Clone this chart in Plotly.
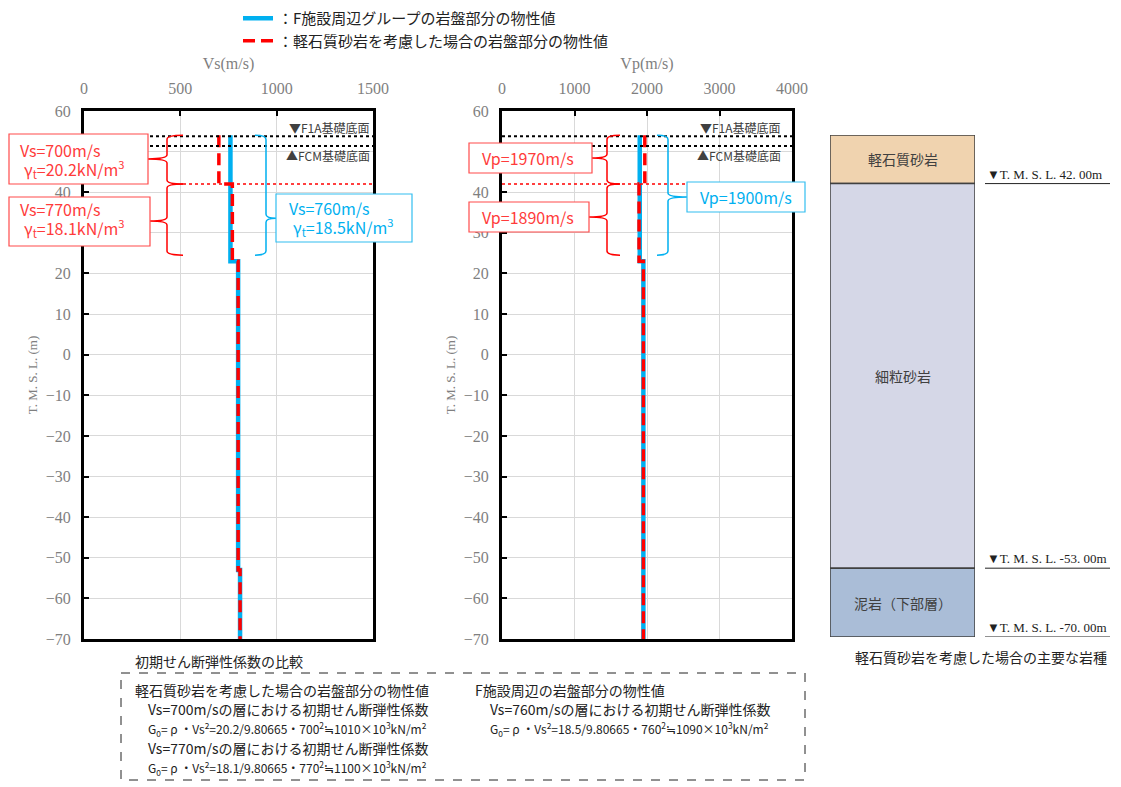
import plotly.graph_objects as go

W, H = 1121, 787
OX, OY = 8, 8  # ページ余白分のずれ

# 層境界 (T.M.S.L. m)
layer_top = [54, 42, 23, -53]
layer_bottom = [42, 23, -53, -70]

# Vs, Vp (m/s) 各層の値
vs_f = [760, 760, 800, 810]      # F施設周辺グループ
vs_p = [700, 770, 800, 810]      # 軽石質砂岩を考慮
vp_f = [1900, 1900, 1950, 1950]
vp_p = [1970, 1890, 1950, 1950]

# 主要な岩種
rock_names = ["軽石質砂岩", "細粒砂岩", "泥岩（下部層）"]
rock_top = [54, 42, -53]
rock_bottom = [42, -53, -70]
rock_colors = ["#F0D3AF", "#D5D7E7", "#AABDD7"]
level_labels = ["▼T. M. S. L. 42. 00m", "▼T. M. S. L. -53. 00m", "▼T. M. S. L. -70. 00m"]
level_values = [42, -53, -70]

f1a_level = 53.8
fcm_level = 51.4
pumice_level = 42
brace_bottom = 24.5

BLUE = "#00B0F0"
RED = "#FF0000"
JP = "Noto Sans CJK JP"
SERIF = "Liberation Serif"
GRAY = "#7F7F7F"


def px(x):
    return (x - OX) / W


def py(y):
    return 1 - (y - OY) / H


# 階段状の折れ線を作る
def step(values):
    xs, ys = [], []
    for v, t, b in zip(values, layer_top, layer_bottom):
        xs += [v, v]
        ys += [t, b]
    return xs, ys


fig = go.Figure()

for vals, color, dash, width, name, xa, ya, show in [
    (vs_f, BLUE, "solid", 4.5, "：F施設周辺グループの岩盤部分の物性値", "x", "y", True),
    (vs_p, RED, "12px,6px", 3.5, "：軽石質砂岩を考慮した場合の岩盤部分の物性値", "x", "y", True),
    (vp_f, BLUE, "solid", 4.5, "F", "x2", "y2", False),
    (vp_p, RED, "12px,6px", 3.5, "P", "x2", "y2", False),
]:
    xs, ys = step(vals)
    fig.add_trace(go.Scatter(
        x=xs, y=ys, mode="lines", name=name, showlegend=show,
        line=dict(color=color, width=width, dash=dash),
        xaxis=xa, yaxis=ya
    ))

# 岩種の柱状図
fig.add_trace(go.Bar(
    x=[0] * len(rock_names),
    y=[t - b for t, b in zip(rock_top, rock_bottom)],
    base=rock_bottom, width=1,
    marker=dict(color=rock_colors, line=dict(color="#404040", width=1.5)),
    showlegend=False, xaxis="x3", yaxis="y3", hoverinfo="skip"
))

common_x = dict(
    side="top", showline=True, linewidth=3, linecolor="black", mirror=True,
    ticks="inside", ticklen=5, tickwidth=2, tickcolor="black", automargin=False,
    showgrid=True, gridcolor="#D9D9D9", gridwidth=1, zeroline=False,
    tickfont=dict(family=SERIF, size=16, color=GRAY), ticklabelstandoff=8,
)
common_y = dict(
    range=[-70, 60], dtick=10, showline=True, linewidth=3, linecolor="black",
    mirror=True, ticks="inside", ticklen=5, tickwidth=2, tickcolor="black",
    showgrid=True, gridcolor="#D9D9D9", gridwidth=1, zeroline=False, automargin=False,
    tickfont=dict(family=SERIF, size=16, color=GRAY), ticklabelstandoff=7,
    title=dict(text="T. M. S. L. (m)", font=dict(family=SERIF, size=13, color=GRAY), standoff=6),
    domain=[py(639), py(111)],
)

fig.update_layout(
    width=W, height=H, margin=dict(l=0, r=0, t=0, b=0, autoexpand=False),
    paper_bgcolor="white", plot_bgcolor="white",
    font=dict(family=JP, color="#222222"),
    barmode="overlay",
    xaxis=dict(common_x, domain=[px(84), px(373)], range=[0, 1500], dtick=500,
               title=dict(text="Vs(m/s)", font=dict(family=SERIF, size=16, color=GRAY), standoff=6)),
    yaxis=dict(common_y, anchor="x"),
    xaxis2=dict(common_x, domain=[px(502), px(792)], range=[0, 4000], dtick=1000, anchor="y2",
                title=dict(text="Vp(m/s)", font=dict(family=SERIF, size=16, color=GRAY), standoff=6)),
    yaxis2=dict(common_y, anchor="x2"),
    xaxis3=dict(domain=[px(830), px(975)], range=[-0.5, 0.5], visible=False, anchor="y3"),
    yaxis3=dict(domain=[py(637), py(135)], range=[-70, 54], visible=False, anchor="x3"),
    legend=dict(x=px(238), y=py(2), xanchor="left", yanchor="top",
                font=dict(family=JP, size=15, color="#222222"),
                bgcolor="rgba(0,0,0,0)", tracegroupgap=0),
)

shapes = []
annotations = []


def ann(text, x, y, size=13, color="#222222", xanchor="left", family=JP, **kw):
    d = dict(text=text, x=px(x), y=py(y), xref="paper", yref="paper",
             xanchor=xanchor, yanchor="middle", showarrow=False,
             font=dict(size=size, color=color, family=family))
    d.update(kw)
    return d


# 基礎底面・軽石質砂岩下端の点線
for x0, x1, yref in [(150, 373, "y"), (502, 792, "y2")]:
    for lvl in [f1a_level, fcm_level]:
        shapes.append(dict(type="line", xref="paper", yref=yref, x0=px(x0), x1=px(x1),
                           y0=lvl, y1=lvl, line=dict(color="black", width=2, dash="dot")))
for x0, x1, yref in [(183, 373, "y"), (502, 792, "y2")]:
    shapes.append(dict(type="line", xref="paper", yref=yref, x0=px(x0), x1=px(x1),
                       y0=pumice_level, y1=pumice_level,
                       line=dict(color=RED, width=1.5, dash="dot")))

for xr in [372, 783]:
    annotations.append(ann("▼F1A基礎底面", xr, 128, size=12, color="#404040", xanchor="right"))
    annotations.append(ann("▲FCM基礎底面", xr, 155, size=12, color="#404040", xanchor="right"))


# 中括弧
def brace(x, xh, xm, y_top, y_bot, y_mid, color, yref):
    r = 1.0
    x, xh, xm = px(x), px(xh), px(xm)
    path = (f"M{xh},{y_top} Q{x},{y_top} {x},{y_top - r} "
            f"L{x},{y_mid + r} Q{x},{y_mid} {xm},{y_mid} "
            f"Q{x},{y_mid} {x},{y_mid - r} "
            f"L{x},{y_bot + r} Q{x},{y_bot} {xh},{y_bot}")
    return dict(type="path", xref="paper", yref=yref, path=path,
                line=dict(color=color, width=1.5))


shapes += [
    brace(167, 183, 148, layer_top[0], pumice_level, 48.2, RED, "y"),
    brace(167, 183, 150, pumice_level, brace_bottom, 32.9, RED, "y"),
    brace(266, 255, 276, layer_top[0], brace_bottom, 33.6, BLUE, "y"),
    brace(607, 620, 592, layer_top[0], pumice_level, 48.4, RED, "y2"),
    brace(607, 620, 589, pumice_level, brace_bottom, 33.9, RED, "y2"),
    brace(668, 657, 687, layer_top[0], brace_bottom, 38.8, BLUE, "y2"),
]


# 値ラベルの枠
def box(lines, x0, y0, x1, y1, tx, ty, color, border):
    shapes.append(dict(type="rect", xref="paper", yref="paper", x0=px(x0), x1=px(x1),
                       y0=py(y0), y1=py(y1), line=dict(color=border, width=1.2),
                       fillcolor="white", layer="above"))
    for i, t in enumerate(lines):
        annotations.append(ann(t, tx[i], ty[i], size=16, color=color))


box(["Vs=700m/s", "γ<sub>t</sub>=20.2kN/m<sup>3</sup>"], 9, 134, 148, 184, [18, 22], [150, 169], "#FF3B3B", "#FF4B4B")
box(["Vs=770m/s", "γ<sub>t</sub>=18.1kN/m<sup>3</sup>"], 9, 197, 150, 246, [18, 22], [209, 228], "#FF3B3B", "#FF4B4B")
box(["Vs=760m/s", "γ<sub>t</sub>=18.5kN/m<sup>3</sup>"], 276, 194, 412, 242, [287, 291], [208, 227], BLUE, "#33BEF0")
box(["Vp=1970m/s"], 469, 143, 592, 173, [480], [158], "#FF3B3B", "#FF4B4B")
box(["Vp=1890m/s"], 469, 202, 589, 232, [480], [217], "#FF3B3B", "#FF4B4B")
box(["Vp=1900m/s"], 687, 182, 805, 212, [698], [197], BLUE, "#33BEF0")

# 岩種名と境界標高
for name, t, b in zip(rock_names, rock_top, rock_bottom):
    annotations.append(dict(text=name, x=px(902.5), y=(t + b) / 2, xref="paper", yref="y3",
                            xanchor="center", yanchor="middle", showarrow=False,
                            font=dict(size=14, color="#404040", family=JP)))
for lbl, lvl in zip(level_labels, level_values):
    annotations.append(dict(text=lbl, x=px(985), y=lvl, xref="paper", yref="y3",
                            xanchor="left", yanchor="bottom", showarrow=False,
                            font=dict(size=13, color="#222222", family=SERIF)))
    shapes.append(dict(type="line", xref="paper", yref="y3", x0=px(985), x1=px(1110),
                       y0=lvl, y1=lvl, line=dict(color="#222222", width=1)))
annotations.append(ann("軽石質砂岩を考慮した場合の主要な岩種", 981, 657, size=14, xanchor="center"))

# 初期せん断弾性係数の比較
annotations.append(ann("初期せん断弾性係数の比較", 133, 661, size=14))
shapes.append(dict(type="rect", xref="paper", yref="paper", x0=px(121), x1=px(805),
                   y0=py(673), y1=py(780), line=dict(color="#222222", width=1, dash="dash")))
g0_p1 = "G<sub>0</sub>= ρ ・Vs<sup>2</sup>=20.2/9.80665・700<sup>2</sup>≒1010×10<sup>3</sup>kN/m<sup>2</sup>"
g0_p2 = "G<sub>0</sub>= ρ ・Vs<sup>2</sup>=18.1/9.80665・770<sup>2</sup>≒1100×10<sup>3</sup>kN/m<sup>2</sup>"
g0_f = "G<sub>0</sub>= ρ ・Vs<sup>2</sup>=18.5/9.80665・760<sup>2</sup>≒1090×10<sup>3</sup>kN/m<sup>2</sup>"
annotations += [
    ann("軽石質砂岩を考慮した場合の岩盤部分の物性値", 133, 690, size=14),
    ann("Vs=700m/sの層における初期せん断弾性係数", 146, 709, size=14),
    ann(g0_p1, 146, 729, size=12),
    ann("Vs=770m/sの層における初期せん断弾性係数", 146, 748, size=14),
    ann(g0_p2, 146, 768, size=12),
    ann("F施設周辺の岩盤部分の物性値", 473, 690, size=14),
    ann("Vs=760m/sの層における初期せん断弾性係数", 488, 709, size=14),
    ann(g0_f, 488, 729, size=12),
]

fig.update_layout(shapes=shapes, annotations=annotations)

fig.write_html("out.html")
